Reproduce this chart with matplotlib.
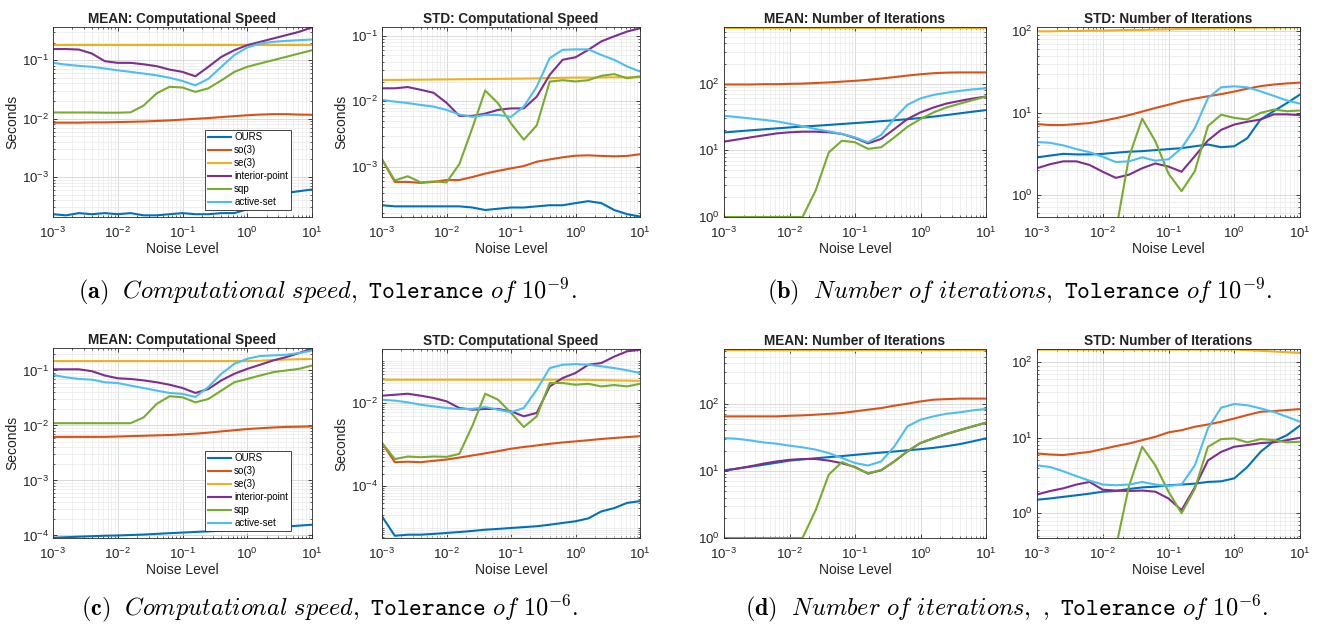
import numpy as np
import matplotlib
matplotlib.use("Agg")
import matplotlib.pyplot as plt
from matplotlib.ticker import LogLocator, NullFormatter

plt.rcParams["font.family"] = ["Liberation Sans", "DejaVu Sans"]
plt.rcParams["mathtext.fontset"] = "custom"
plt.rcParams["mathtext.rm"] = "Liberation Sans"
plt.rcParams["mathtext.it"] = "Liberation Sans:italic"
plt.rcParams["mathtext.bf"] = "Liberation Sans:bold"

# ─── Data ─────────────────────────────────────────────────────────────────────
METHODS = ["OURS", "so(3)", "se(3)", "interior-point", "sqp", "active-set"]
COLORS = ["#0072BD", "#D95319", "#EDB120", "#7E2F8E", "#77AC30", "#4DBEEE"]

NOISE = [0.001, 0.00158, 0.00251, 0.00398, 0.00631, 0.01, 0.0158, 0.0251,
         0.0398, 0.0631, 0.1, 0.158, 0.251, 0.398, 0.631, 1.0, 1.58, 2.51,
         3.98, 6.31, 10.0]

# (a) computational speed, tolerance 1e-9
A_MEAN_OURS = [2.3e-4, 2.2e-4, 2.4e-4, 2.3e-4, 2.4e-4, 2.3e-4, 2.4e-4, 2.2e-4, 2.2e-4, 2.3e-4, 2.4e-4,
               2.3e-4, 2.3e-4, 2.4e-4, 2.4e-4, 2.8e-4, 3.7e-4, 4.8e-4, 5.3e-4, 5.7e-4, 6.1e-4]
A_MEAN_SO3 = [8.5e-3, 8.5e-3, 8.5e-3, 8.6e-3, 8.6e-3, 8.7e-3, 8.8e-3, 8.9e-3, 9.1e-3, 9.3e-3, 9.6e-3,
              9.9e-3, 1.02e-2, 1.06e-2, 1.10e-2, 1.14e-2, 1.17e-2, 1.19e-2, 1.19e-2, 1.17e-2, 1.16e-2]
A_MEAN_SE3 = [0.185, 0.185, 0.185, 0.185, 0.185, 0.185, 0.185, 0.185, 0.185, 0.185, 0.185,
              0.185, 0.185, 0.185, 0.185, 0.185, 0.185, 0.185, 0.185, 0.185, 0.185]
A_MEAN_IP = [0.155, 0.155, 0.152, 0.13, 0.096, 0.09, 0.09, 0.085, 0.079, 0.069, 0.063,
             0.053, 0.077, 0.114, 0.148, 0.181, 0.206, 0.235, 0.268, 0.306, 0.363]
A_MEAN_SQP = [0.0127, 0.0127, 0.0127, 0.0127, 0.0126, 0.0126, 0.0128, 0.0167, 0.027, 0.035, 0.034,
              0.0286, 0.033, 0.045, 0.063, 0.077, 0.088, 0.1, 0.114, 0.13, 0.148]
A_MEAN_AS = [0.09, 0.084, 0.08, 0.077, 0.072, 0.067, 0.063, 0.059, 0.055, 0.05, 0.044,
             0.037, 0.048, 0.077, 0.122, 0.165, 0.193, 0.206, 0.214, 0.22, 0.226]

A_STD_OURS = [2.6e-4, 2.5e-4, 2.5e-4, 2.5e-4, 2.5e-4, 2.5e-4, 2.5e-4, 2.4e-4, 2.2e-4, 2.3e-4, 2.4e-4,
              2.4e-4, 2.5e-4, 2.6e-4, 2.6e-4, 2.8e-4, 3.0e-4, 2.8e-4, 2.2e-4, 1.9e-4, 1.75e-4]
A_STD_SO3 = [1.3e-3, 5.9e-4, 5.9e-4, 5.7e-4, 5.9e-4, 6.3e-4, 6.3e-4, 7.0e-4, 7.9e-4, 8.7e-4, 9.5e-4,
             1.03e-3, 1.2e-3, 1.3e-3, 1.4e-3, 1.48e-3, 1.5e-3, 1.47e-3, 1.45e-3, 1.47e-3, 1.56e-3]
A_STD_SE3 = [0.0212, 0.0212, 0.0213, 0.0214, 0.0215, 0.0216, 0.0217, 0.0218, 0.0219, 0.022, 0.0221,
             0.0222, 0.0224, 0.0226, 0.0228, 0.023, 0.023, 0.0231, 0.0232, 0.0232, 0.0233]
A_STD_IP = [0.0158, 0.0158, 0.0165, 0.015, 0.0135, 0.0095, 0.006, 0.006, 0.0065, 0.0074, 0.0078,
            0.0078, 0.0118, 0.0253, 0.043, 0.047, 0.061, 0.082, 0.098, 0.116, 0.13]
A_STD_SQP = [1.3e-3, 6.2e-4, 7.2e-4, 5.8e-4, 6.0e-4, 5.8e-4, 1.1e-3, 3.9e-3, 0.0146, 0.0093, 0.0046,
             0.0026, 0.0043, 0.020, 0.021, 0.0201, 0.021, 0.0245, 0.026, 0.0225, 0.024]
A_STD_AS = [0.0105, 0.0099, 0.0094, 0.0088, 0.0083, 0.0074, 0.0063, 0.0058, 0.0062, 0.0062, 0.0058,
            0.0083, 0.0168, 0.0455, 0.061, 0.062, 0.062, 0.051, 0.043, 0.034, 0.0285]

# (b) number of iterations, tolerance 1e-9
B_MEAN_OURS = [18.5, 19.2, 19.9, 20.6, 21.3, 22.0, 22.7, 23.3, 24.0, 24.8, 25.6,
               26.4, 27.3, 28.2, 29.2, 30.5, 32.0, 33.8, 35.8, 37.9, 40.0]
B_MEAN_SO3 = [97, 97, 97, 98, 98, 99, 100, 102, 104, 107, 110,
              114, 119, 125, 132, 138, 143, 146, 147, 147, 147]
B_MEAN_SE3 = [685, 685, 685, 685, 685, 685, 685, 685, 685, 685, 685,
              685, 685, 685, 685, 685, 685, 685, 685, 685, 685]
B_MEAN_IP = [13.5, 14.5, 15.6, 16.7, 17.9, 18.6, 19.0, 19.0, 18.6, 17.6, 15.3,
             12.7, 14.8, 20.8, 29.4, 37, 43.8, 50.3, 55, 59.7, 64]
B_MEAN_SQP = [1, 1, 1, 1, 1, 1, 1, 2.5, 9.3, 13.9, 13.2,
              10.5, 11.1, 15.6, 22.5, 29.4, 37, 44, 50, 56.5, 64]
B_MEAN_AS = [32.9, 31.5, 30.0, 28.6, 27.2, 25.0, 23.0, 20.8, 19.2, 17.6, 15.6,
             13.2, 17.0, 30.0, 48.0, 60.0, 67.7, 73, 77.7, 82, 85]

B_STD_OURS = [2.85, 3.0, 3.15, 3.1, 3.1, 3.15, 3.25, 3.35, 3.4, 3.5, 3.6,
              3.7, 3.9, 4.1, 3.8, 3.9, 4.9, 8.3, 10.5, 13.2, 16.8]
B_STD_SO3 = [7.3, 7.1, 7.1, 7.3, 7.5, 8.0, 8.6, 9.4, 10.4, 11.5, 12.6,
             13.9, 15.0, 16.0, 17.0, 18.3, 19.8, 21.3, 22.3, 23.0, 23.5]
B_STD_SE3 = [100, 100, 101, 101, 102, 102, 103, 104, 104, 105, 106,
             107, 107, 108, 109, 110, 110, 111, 111, 112, 112]
B_STD_IP = [2.1, 2.35, 2.55, 2.55, 2.3, 1.9, 1.6, 1.75, 2.1, 2.4, 2.2,
            1.9, 2.95, 4.6, 6.2, 7.2, 7.8, 8.3, 9.6, 9.6, 9.4]
B_STD_SQP = [0, 0, 0, 0, 0, 0, 0.35, 2.9, 8.5, 4.5, 1.8,
             1.1, 1.93, 6.9, 9.5, 8.7, 8.3, 10, 11, 10.5, 10.7]
B_STD_AS = [4.4, 4.3, 4.0, 3.6, 3.3, 2.9, 2.5, 2.55, 2.85, 2.6, 2.7,
            3.7, 6.5, 15.2, 20.6, 21.2, 20.6, 18.4, 16.2, 14.2, 13.0]

# (c) computational speed, tolerance 1e-6
C_MEAN_OURS = [9.1e-5, 9.3e-5, 9.5e-5, 9.7e-5, 9.9e-5, 1.0e-4, 1.02e-4, 1.04e-4, 1.07e-4, 1.1e-4, 1.13e-4,
               1.16e-4, 1.19e-4, 1.22e-4, 1.26e-4, 1.3e-4, 1.35e-4, 1.4e-4, 1.45e-4, 1.51e-4, 1.57e-4]
C_MEAN_SO3 = [6.2e-3, 6.2e-3, 6.2e-3, 6.2e-3, 6.2e-3, 6.3e-3, 6.4e-3, 6.5e-3, 6.6e-3, 6.7e-3, 6.9e-3,
              7.1e-3, 7.4e-3, 7.8e-3, 8.2e-3, 8.6e-3, 8.9e-3, 9.2e-3, 9.4e-3, 9.5e-3, 9.6e-3]
C_MEAN_SE3 = [0.148, 0.148, 0.148, 0.148, 0.148, 0.148, 0.148, 0.148, 0.148, 0.148, 0.148,
              0.148, 0.148, 0.148, 0.148, 0.148, 0.15, 0.155, 0.158, 0.16, 0.162]
C_MEAN_IP = [0.105, 0.105, 0.105, 0.097, 0.081, 0.072, 0.070, 0.066, 0.061, 0.055, 0.048,
             0.039, 0.046, 0.066, 0.087, 0.107, 0.127, 0.152, 0.175, 0.207, 0.25]
C_MEAN_SQP = [0.011, 0.011, 0.011, 0.011, 0.011, 0.011, 0.011, 0.014, 0.0246, 0.034, 0.0325,
              0.0263, 0.0303, 0.043, 0.061, 0.070, 0.081, 0.093, 0.1, 0.107, 0.123]
C_MEAN_AS = [0.083, 0.075, 0.070, 0.068, 0.061, 0.059, 0.053, 0.048, 0.043, 0.039, 0.0375,
             0.033, 0.05, 0.087, 0.132, 0.163, 0.183, 0.188, 0.193, 0.207, 0.23]

C_STD_OURS = [1.9e-5, 6.5e-6, 6.9e-6, 6.9e-6, 7.2e-6, 7.6e-6, 8.0e-6, 8.5e-6, 9.1e-6, 9.5e-6, 1.0e-5,
              1.05e-5, 1.1e-5, 1.2e-5, 1.32e-5, 1.45e-5, 1.7e-5, 2.5e-5, 3.0e-5, 4.0e-5, 4.4e-5]
C_STD_SO3 = [1.1e-3, 3.8e-4, 3.9e-4, 3.8e-4, 4.1e-4, 4.4e-4, 4.9e-4, 5.5e-4, 6.2e-4, 7.0e-4, 8.0e-4,
             8.8e-4, 9.6e-4, 1.05e-3, 1.13e-3, 1.2e-3, 1.28e-3, 1.37e-3, 1.45e-3, 1.52e-3, 1.6e-3]
C_STD_SE3 = [0.0363, 0.0363, 0.0363, 0.0363, 0.0363, 0.0363, 0.0363, 0.0363, 0.0363, 0.0363, 0.0363,
             0.0363, 0.0363, 0.0363, 0.0363, 0.0362, 0.036, 0.0355, 0.035, 0.0345, 0.034]
C_STD_IP = [0.015, 0.0158, 0.0167, 0.015, 0.0132, 0.011, 0.0076, 0.0069, 0.0072, 0.0072, 0.0063,
            0.0048, 0.0058, 0.025, 0.0398, 0.0525, 0.083, 0.091, 0.13, 0.174, 0.19]
C_STD_SQP = [1.1e-3, 4.5e-4, 5.2e-4, 5.0e-4, 5.2e-4, 5.1e-4, 6.0e-4, 2.8e-3, 0.0167, 0.012, 5.8e-3,
             2.65e-3, 4.8e-3, 0.0302, 0.0302, 0.0275, 0.029, 0.025, 0.027, 0.025, 0.029]
C_STD_AS = [0.012, 0.0114, 0.0104, 0.0091, 0.0083, 0.0076, 0.0072, 0.0072, 0.008, 0.0069, 0.006,
            0.0076, 0.021, 0.069, 0.083, 0.086, 0.083, 0.076, 0.069, 0.061, 0.0525]

# (d) number of iterations, tolerance 1e-6
D_MEAN_OURS = [10.2, 10.8, 11.5, 12.3, 13.2, 14.2, 14.8, 15.4, 16.0, 16.6, 17.3,
               18.0, 18.7, 19.4, 20.2, 21.0, 22.0, 23.3, 25.0, 27.5, 30.5]
D_MEAN_SO3 = [64.7, 64.7, 64.7, 64.7, 64.7, 66, 67, 68.6, 70.5, 72.6, 76.9,
              81.4, 86, 93.4, 100, 108, 114.7, 117, 119, 119, 119]
D_MEAN_SE3 = [625, 625, 625, 625, 625, 625, 625, 625, 625, 625, 625,
              625, 625, 625, 625, 625, 625, 625, 625, 625, 625]
D_MEAN_IP = [10.0, 10.8, 11.7, 12.8, 13.8, 14.6, 15.0, 15.0, 14.2, 13.0, 11.4,
             9.1, 10.2, 13.8, 19.5, 26, 30.5, 35.5, 40.5, 46, 52]
D_MEAN_SQP = [1, 1, 1, 1, 1, 1, 1, 2.6, 8.8, 13.5, 11.2,
              9.2, 10.3, 13.8, 19.5, 26, 30.5, 35.5, 40.5, 46, 52.5]
D_MEAN_AS = [30.8, 30.0, 28.4, 26.5, 25.4, 23.7, 22.4, 20.7, 18.4, 15.5, 13.1,
             12.0, 13.8, 23.0, 45.9, 57.8, 64.7, 71, 74.3, 79.6, 83.3]

D_STD_OURS = [1.51, 1.57, 1.65, 1.73, 1.82, 1.93, 1.97, 2.1, 2.2, 2.25, 2.35,
              2.4, 2.47, 2.6, 2.65, 2.9, 4.1, 6.5, 9.0, 10.8, 14.5]
D_STD_SO3 = [6.2, 6.0, 5.9, 6.2, 6.5, 7.1, 7.75, 8.4, 9.3, 10.3, 11.8,
             12.6, 14.0, 15.0, 16.3, 18.0, 20.0, 22.1, 22.6, 23.3, 24.0]
D_STD_SE3 = [147, 147, 147, 147, 147, 147, 147, 147, 147, 147, 147,
             147, 147, 147, 147, 147, 145, 142, 139, 136, 133]
D_STD_IP = [1.77, 1.97, 2.14, 2.4, 2.6, 2.05, 2.0, 1.97, 2.0, 1.93, 1.57,
            1.1, 2.2, 5.0, 6.5, 7.6, 8.0, 8.5, 8.7, 9.3, 10.0]
D_STD_SQP = [0, 0, 0, 0, 0, 0, 0.35, 2.3, 7.6, 4.3, 1.93,
             1.0, 2.1, 7.6, 9.6, 9.8, 8.7, 9.6, 9.3, 8.7, 8.85]
D_STD_AS = [4.3, 4.1, 3.6, 3.1, 2.7, 2.4, 2.35, 2.4, 2.6, 2.4, 2.3,
            2.4, 4.3, 13.3, 25, 28, 27, 24.5, 22, 19, 16.3]

# ─── Layout ───────────────────────────────────────────────────────────────────
W, H = 1320, 626
AXIS = "#262626"
GRID_MAJOR = "#d4d4d4"
GRID_MINOR = "#e9e9e9"


def px_axes(fig, left, top, right, bottom):
    return fig.add_axes([left / W, 1 - bottom / H, (right - left) / W, (bottom - top) / H])


def draw_panel(ax, title, series, ylim, yticks, ylabel=None, legend=False):
    x = np.array(NOISE)
    for vals, name, col in zip(series, METHODS, COLORS):
        y = np.array(vals, dtype=float)
        y[y <= 0] = np.nan
        ax.plot(x, y, color=col, linewidth=1.5, label=name)
    ax.set_xscale("log")
    ax.set_yscale("log")
    ax.set_xticks([1e-3, 1e-2, 1e-1, 1e0, 1e1])
    ax.set_yticks(yticks)
    ax.xaxis.set_minor_locator(LogLocator(base=10, subs=np.arange(1, 10), numticks=100))
    ax.yaxis.set_minor_locator(LogLocator(base=10, subs=np.arange(1, 10), numticks=100))
    ax.xaxis.set_minor_formatter(NullFormatter())
    ax.yaxis.set_minor_formatter(NullFormatter())
    # limits after the ticks, so set_yticks can not widen them
    ax.set_xlim(1e-3, 1e1)
    ax.set_ylim(*ylim)
    ax.grid(True, which="major", color=GRID_MAJOR, linewidth=0.6)
    ax.grid(True, which="minor", color=GRID_MINOR, linewidth=0.5)
    ax.set_axisbelow(True)
    ax.tick_params(which="both", direction="in", top=True, right=True,
                   colors=AXIS, labelsize=9.5, labelcolor="#222222")
    ax.tick_params(which="major", length=3, width=0.6, pad=3)
    ax.tick_params(axis="x", which="major", pad=6)
    ax.tick_params(which="minor", length=1.5, width=0.5)
    for spine in ax.spines.values():
        spine.set_edgecolor(AXIS)
        spine.set_linewidth(0.6)
    ax.set_title(title, fontsize=9.8, fontweight="bold", color="#222222", pad=3)
    ax.set_xlabel("Noise Level", fontsize=10, color="#222222", labelpad=1)
    if ylabel:
        ax.set_ylabel(ylabel, fontsize=10, color="#222222", labelpad=2)
    if legend:
        leg = ax.legend(loc="lower left", bbox_to_anchor=(0.587, 0.037), borderaxespad=0,
                        fontsize=7, handlelength=2.4, handletextpad=0.3, labelspacing=0.3,
                        borderpad=0.3, fancybox=False, edgecolor=AXIS, framealpha=1)
        leg.get_frame().set_linewidth(0.6)


fig = plt.figure(figsize=(W / 100, H / 100), dpi=100, facecolor="white")

SPEED_TICKS = [1e-4, 1e-3, 1e-2, 1e-1]
ITER_TICKS = [1e0, 1e1, 1e2]

ax = px_axes(fig, 53, 27, 312, 217)
draw_panel(ax, "MEAN: Computational Speed",
           [A_MEAN_OURS, A_MEAN_SO3, A_MEAN_SE3, A_MEAN_IP, A_MEAN_SQP, A_MEAN_AS],
           (2.06e-4, 0.37), SPEED_TICKS, "Seconds", legend=True)
ax = px_axes(fig, 382, 27, 640, 217)
draw_panel(ax, "STD: Computational Speed",
           [A_STD_OURS, A_STD_SO3, A_STD_SE3, A_STD_IP, A_STD_SQP, A_STD_AS],
           (1.72e-4, 0.136), SPEED_TICKS, "Seconds")
ax = px_axes(fig, 724, 27, 986, 217)
draw_panel(ax, "MEAN: Number of Iterations",
           [B_MEAN_OURS, B_MEAN_SO3, B_MEAN_SE3, B_MEAN_IP, B_MEAN_SQP, B_MEAN_AS],
           (1, 705), ITER_TICKS)
ax = px_axes(fig, 1037, 27, 1300, 217)
draw_panel(ax, "STD: Number of Iterations",
           [B_STD_OURS, B_STD_SO3, B_STD_SE3, B_STD_IP, B_STD_SQP, B_STD_AS],
           (0.53, 113), ITER_TICKS)

ax = px_axes(fig, 53, 348, 312, 538)
draw_panel(ax, "MEAN: Computational Speed",
           [C_MEAN_OURS, C_MEAN_SO3, C_MEAN_SE3, C_MEAN_IP, C_MEAN_SQP, C_MEAN_AS],
           (9.0e-5, 0.256), SPEED_TICKS, "Seconds", legend=True)
ax = px_axes(fig, 382, 349, 640, 538)
draw_panel(ax, "STD: Computational Speed",
           [C_STD_OURS, C_STD_SO3, C_STD_SE3, C_STD_IP, C_STD_SQP, C_STD_AS],
           (5.75e-6, 0.198), [1e-4, 1e-2], "Seconds")
ax = px_axes(fig, 724, 349, 986, 538)
draw_panel(ax, "MEAN: Number of Iterations",
           [D_MEAN_OURS, D_MEAN_SO3, D_MEAN_SE3, D_MEAN_IP, D_MEAN_SQP, D_MEAN_AS],
           (1, 652), ITER_TICKS)
ax = px_axes(fig, 1037, 349, 1300, 538)
draw_panel(ax, "STD: Number of Iterations",
           [D_STD_OURS, D_STD_SO3, D_STD_SE3, D_STD_IP, D_STD_SQP, D_STD_AS],
           (0.47, 150), ITER_TICKS)

# ─── Sub-captions ─────────────────────────────────────────────────────────────
CAPTIONS = [
    (327, 291, r"$\mathbf{(a)}\ \ \mathit{Computational\ speed},\ \mathtt{Tolerance}\ \mathit{of}\ 10^{-9}.$"),
    (1020, 291, r"$\mathbf{(b)}\ \ \mathit{Number\ of\ iterations},\ \mathtt{Tolerance}\ \mathit{of}\ 10^{-9}.$"),
    (330, 608, r"$\mathbf{(c)}\ \ \mathit{Computational\ speed},\ \mathtt{Tolerance}\ \mathit{of}\ 10^{-6}.$"),
    (1007, 608, r"$\mathbf{(d)}\ \ \mathit{Number\ of\ iterations},\ ,\ \mathtt{Tolerance}\ \mathit{of}\ 10^{-6}.$"),
]
for cx, cy, txt in CAPTIONS:
    fig.text(cx / W, 1 - cy / H, txt, ha="center", va="center", fontsize=17.5,
             math_fontfamily="cm", color="black")

fig.savefig("out.png", dpi=100, facecolor="white")
